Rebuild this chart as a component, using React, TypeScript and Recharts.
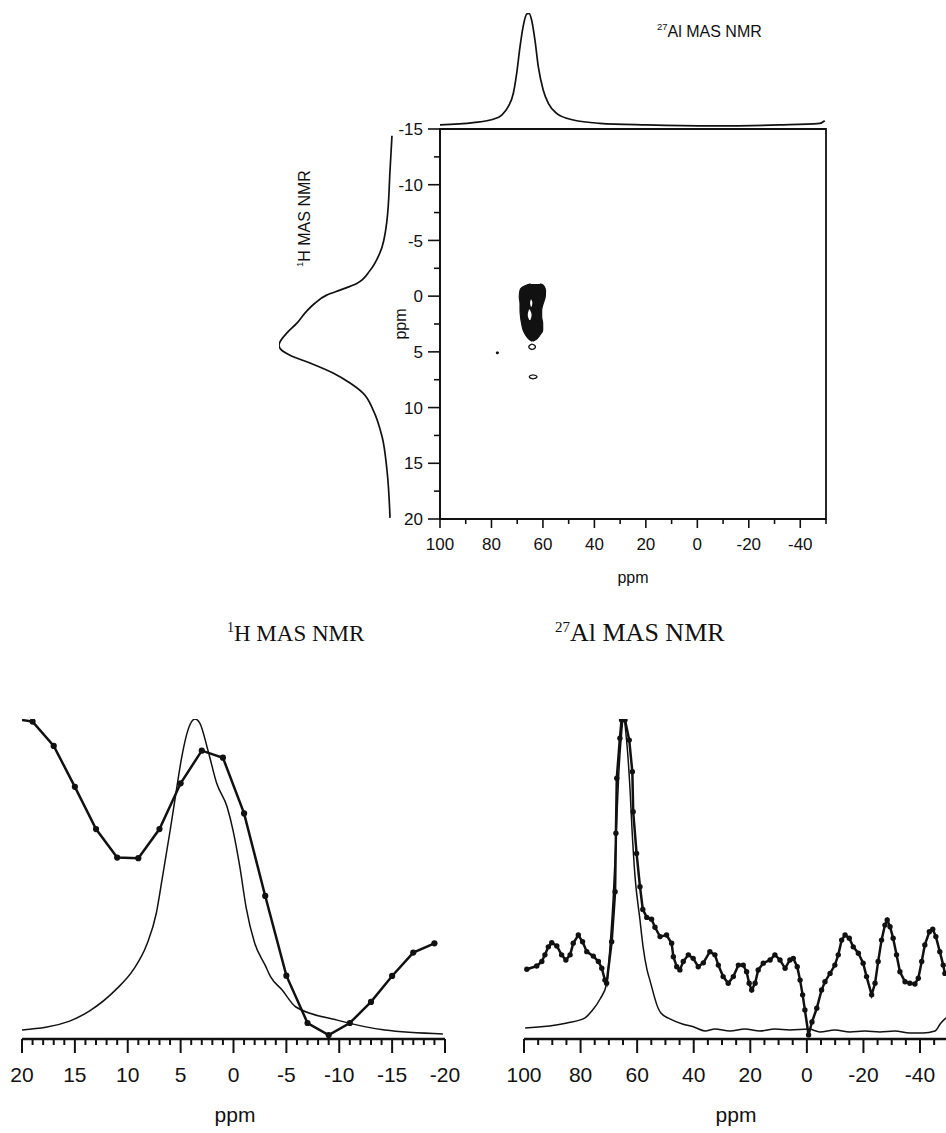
import React from 'react';
import { ComposedChart, LineChart, Line, Area, XAxis, YAxis, ReferenceArea } from 'recharts';

const SANS = "'Liberation Sans', Arial, Helvetica, sans-serif";
const SERIF = "'Liberation Serif', 'Times New Roman', Times, serif";
const INK = '#111';

// 27Al MAS projection drawn above the 2D map (ppm, relative intensity)
const alProjPpm = [100, 87.1, 79.3, 76.0, 73.5, 71.5, 70.2, 68.9, 67.7, 66.3, 65.4, 64.4, 63.1, 61.8, 59.9, 57.9, 54.7, 48.2, 37.9, 19.7, -6.1, -32.0, -47.6, -49.5];
const alProjInt = [1.8, 3.8, 6.8, 10.5, 17.8, 29.6, 47.1, 70.5, 88, 99.1, 99.7, 93.9, 76.3, 52.9, 32.5, 20.8, 12, 6.1, 3.2, 1.8, 0.9, 1.8, 3.2, 5.5];

// 1H MAS projection drawn left of the 2D map
const hProjPpm = [-14.4, -11.3, -6.8, -3.9, -2.3, -1.14, -0.54, -0.09, 0.66, 1.41, 2.45, 3.3, 4.1, 4.4, 4.8, 5.3, 6.0, 6.9, 7.8, 8.7, 10.2, 12.6, 15.6, 19.9];
const hProjInt = [0.9, 2.6, 5.3, 11.4, 20.2, 31.8, 46.5, 58.2, 68.8, 76.3, 84.5, 93, 99.1, 100, 98.2, 90.4, 72.8, 52.6, 37.7, 26.3, 17.5, 9.6, 5.3, 2.6];

// 2D correlation contours: 1H shift rows with the 27Al extent (left edge, right edge)
const blobH = [-1.1, -0.99, -0.54, 0.06, 0.66, 1.26, 1.86, 2.45, 3.05, 3.5, 3.89, 4.05];
const blobAlLeft = [64.8, 66.3, 68.9, 69.2, 68.9, 68.9, 68.7, 68.3, 67.7, 66.7, 65.3, 64.2];
const blobAlRight = [61.2, 59.9, 59.0, 59.1, 59.9, 60.5, 60.5, 60.1, 60.1, 61.2, 62.7, 63.9];
const gapAH = [0.3, 0.6, 0.96];
const gapAAlLeft = [64.7, 65.0, 64.7];
const gapAAlRight = [64.5, 64.1, 64.4];
const gapBH = [1.2, 1.7, 2.15];
const gapBAlLeft = [65.4, 65.9, 65.3];
const gapBAlRight = [65.1, 64.4, 64.9];
const ringAH = [4.31, 4.37, 4.45, 4.55, 4.65, 4.73, 4.79];
const ringAAlLeft = [64.2, 64.9, 65.3, 65.5, 65.3, 64.9, 64.2];
const ringAAlRight = [64.2, 63.5, 63.1, 62.9, 63.1, 63.5, 64.2];
const ringBH = [7.06, 7.12, 7.24, 7.36, 7.42];
const ringBAlLeft = [63.8, 64.9, 65.3, 64.9, 63.8];
const ringBAlRight = [63.8, 62.8, 62.3, 62.8, 63.8];
const specH = [4.99, 5.09, 5.19];
const specAlLeft = [77.7, 78.1, 77.7];
const specAlRight = [77.7, 77.3, 77.7];

// 1H MAS spectrum (thin) and 1H profile (dotted), bottom left
const hSpecPpm = [20, 15.5, 13.6, 11.1, 9.5, 8.2, 7.3, 6.7, 6.0, 5.5, 4.9, 4.3, 3.65, 3.2, 2.4, 1.6, 0.6, 0.05, -0.6, -1.2, -2.0, -3.0, -3.5, -4.6, -5.9, -9.8, -14.3, -19.8];
const hSpecInt = [2.8, 5.6, 8.8, 15.5, 21.5, 29.5, 39.3, 51, 65, 75.6, 88, 96.6, 100, 98.8, 90, 80, 72.5, 65.3, 53.8, 41, 30, 23, 19.5, 15.3, 10, 5.9, 2.8, 1.6];
const hProfPpm = [20, 19, 17, 15, 13, 11, 9, 7, 5, 3, 1, -1, -3, -5, -7, -9, -11, -13, -15, -17, -19];
const hProfInt = [99.7, 99.2, 91.6, 78.8, 65.6, 56.7, 56.5, 65.6, 79.9, 90.1, 87.9, 70.5, 44.7, 19.8, 5, 1.25, 5, 11.6, 19.7, 27, 29.9];

// 27Al MAS spectrum (thin) and 27Al profile (dotted), bottom right
const alSpecPpm = [99.6, 84.8, 78.4, 76.0, 73.1, 70.7, 69.6, 68.5, 67.5, 66.6, 65.7, 64.8, 63.6, 62.5, 61.8, 60.8, 59.0, 57.9, 56.5, 55.5, 52.6, 51.6, 48.4, 44.0, 39.9, 36.0, 32.5, 27.2, 21.9, 16.6, 11.3, 6.0, -0.7, -4.6, -9.9, -15.2, -20.5, -25.8, -31.1, -36.4, -41.0, -45.3, -47.4, -49.2];
const alSpecInt = [3.4, 5.0, 6.6, 8.8, 12.5, 17.5, 28.8, 43.4, 62, 81, 93.4, 100, 92, 77.8, 65.3, 51.3, 37.2, 28.8, 21.6, 18.4, 9.7, 8.1, 6.3, 4.7, 3.75, 2.5, 3.1, 2.5, 3.1, 2.5, 3.1, 2.8, 3.1, 2.2, 2.8, 2.2, 2.5, 2.2, 2.5, 1.9, 1.9, 2.5, 5, 6.6];
const alProfPpm = [
  99.0, 95.5, 93.7, 92.6, 91.4, 90.2, 88.4, 86.7, 85.2, 83.7,
  82.6, 80.8, 79.3, 77.8, 75.5, 73.7, 72.5, 71.4, 70.8, 69.0,
  67.8, 67.5, 67.2, 66.1, 65.5, 64.7, 64.3, 62.8, 61.7, 61.4,
  60.2, 59.0, 58.0, 56.6, 54.9, 53.7, 51.9, 49.6, 47.8, 47.2,
  46.0, 44.9, 43.7, 41.9, 40.2, 38.4, 36.6, 34.3, 32.5, 31.3,
  29.6, 27.8, 26.0, 24.2, 22.5, 21.3, 20.4, 19.5, 18.3, 17.2,
  15.4, 13.0, 11.3, 9.5, 7.7, 6.0, 4.8, 3.4, 2.4, 1.5,
  0.7, -0.6, -1.8, -3.5, -5.2, -6.4, -8.2, -9.9, -11.1, -12.3,
  -13.5, -15.0, -16.4, -18.2, -19.9, -21.1, -22.9, -24.1, -25.2, -26.4,
  -27.6, -28.4, -29.4, -30.5, -31.7, -32.9, -34.7, -36.4, -38.2, -39.4,
  -40.6, -41.7, -43.3, -44.5, -45.6, -47.0, -48.2, -48.8,
];
const alProfInt = [
  21.8, 22.8, 24.2, 26.3, 28.8, 30.1, 29.1, 26.3, 24.7, 26.3,
  29.9, 32.5, 30.4, 27.3, 25.9, 24.2, 22.1, 18.4, 17.4, 30.4,
  46.0, 64.3, 81.5, 94.0, 99.7, 100, 99.7, 93.4, 83.5, 71.0,
  58.0, 47.6, 40.5, 38.0, 37.4, 34.9, 32.0, 32.5, 29.9, 25.7,
  22.6, 21.6, 24.2, 26.3, 25.2, 22.6, 23.8, 27.3, 26.3, 23.1,
  19.5, 17.4, 19.5, 23.1, 23.1, 21.0, 17.4, 15.3, 17.4, 21.6,
  23.7, 24.7, 26.3, 24.7, 22.1, 24.7, 25.2, 22.6, 18.4, 13.8,
  9.1, 1.25, 5.3, 9.6, 15.3, 17.9, 20.5, 23.1, 26.3, 30.9,
  32.5, 31.5, 28.8, 26.8, 23.7, 19.5, 13.8, 17.4, 24.2, 30.9,
  35.6, 37.2, 35.1, 31.5, 26.3, 21.0, 17.9, 17.4, 17.2, 19.0,
  24.2, 29.4, 33.5, 34.3, 32.0, 27.3, 23.1, 20.5,
];

// axis ticks
const mapAlTicks = [100, 90, 80, 70, 60, 50, 40, 30, 20, 10, 0, -10, -20, -30, -40, -50];
const mapHTicks = [-15, -12.5, -10, -7.5, -5, -2.5, 0, 2.5, 5, 7.5, 10, 12.5, 15, 17.5, 20];
const hSpecTicks = [20, 19, 18, 17, 16, 15, 14, 13, 12, 11, 10, 9, 8, 7, 6, 5, 4, 3, 2, 1, 0, -1, -2, -3, -4, -5, -6, -7, -8, -9, -10, -11, -12, -13, -14, -15, -16, -17, -18, -19, -20];
const alSpecTicks = [100, 95, 90, 85, 80, 75, 70, 65, 60, 55, 50, 45, 40, 35, 30, 25, 20, 15, 10, 5, 0, -5, -10, -15, -20, -25, -30, -35, -40, -45, -50];

type TickOpts = { major: number; majorLen: number; minorLen: number; sw: number; fontSize: number; labelOffset: number };

const isMajorTick = (v: number, step: number) => Math.abs(v % step) < 1e-9;

const bottomTick = (o: TickOpts) => (props: any) => {
  const { x, y, payload, index } = props;
  const v = Number(payload.value);
  const major = isMajorTick(v, o.major);
  return (
    <g key={`bt-${index}`}>
      <line x1={x} x2={x} y1={y} y2={y + (major ? o.majorLen : o.minorLen)} stroke={INK} strokeWidth={o.sw} />
      {major && (
        <text x={x} y={y + o.labelOffset} textAnchor="middle" fontFamily={SANS} fontSize={o.fontSize} fill={INK}>
          {String(v)}
        </text>
      )}
    </g>
  );
};

const leftTick = (o: TickOpts) => (props: any) => {
  const { x, y, payload, index } = props;
  const v = Number(payload.value);
  const major = isMajorTick(v, o.major);
  return (
    <g key={`lt-${index}`}>
      <line x1={x - (major ? o.majorLen : o.minorLen)} x2={x} y1={y} y2={y} stroke={INK} strokeWidth={o.sw} />
      {major && (
        <text x={x - o.labelOffset} y={y} dy="0.36em" textAnchor="end" fontFamily={SANS} fontSize={o.fontSize} fill={INK}>
          {String(v)}
        </text>
      )}
    </g>
  );
};

const pairs = (xs: number[], ys: number[], kx: string, ky: string) =>
  xs.map((x, i) => ({ [kx]: x, [ky]: ys[i] } as Record<string, number>));

const merged = (...groups: Record<string, number>[][]) =>
  ([] as Record<string, number>[]).concat(...groups).sort((a, b) => b.ppm - a.ppm);

// filled round markers; `skipFrom` hides the marker on the leading edge point
const roundDot = (r: number, skipFrom = Infinity) => (p: any) => {
  const key = `dot-${p.index}`;
  if (p.cx == null || p.cy == null || p.value == null || p.payload?.ppm >= skipFrom) return <g key={key} />;
  return <circle key={key} cx={p.cx} cy={p.cy} r={r} fill={INK} stroke="none" />;
};

// ---------- 2D map geometry (shared by every map layer) ----------
const MAP_BOX = { left: 380, top: 100, width: 470, height: 500 };
const MAP_MARGIN_AXES = { top: 29, right: 24, left: 0, bottom: 51 };
const MAP_MARGIN_BARE = { top: 29, right: 24, left: 60, bottom: 81 };

type LayerProps = {
  h: number[];
  left: number[];
  right: number[];
  fill: string;
  stroke: string;
  strokeWidth: number;
  axes?: boolean;
};

function MapLayer({ h, left, right, fill, stroke, strokeWidth, axes }: LayerProps) {
  const data = h.map((v, i) => ({ h: v, al: [right[i], left[i]] }));
  return (
    <div style={{ position: 'absolute', left: MAP_BOX.left, top: MAP_BOX.top }}>
      <ComposedChart
        layout="vertical"
        width={MAP_BOX.width}
        height={MAP_BOX.height}
        data={data}
        margin={axes ? MAP_MARGIN_AXES : MAP_MARGIN_BARE}
      >
        <XAxis
          type="number"
          domain={[-50, 100]}
          reversed
          allowDataOverflow
          hide={!axes}
          height={30}
          ticks={mapAlTicks}
          interval={0}
          tickSize={0}
          tickMargin={0}
          tickLine={false}
          axisLine={{ stroke: INK, strokeWidth: 1.7 }}
          tick={bottomTick({ major: 20, majorLen: 9, minorLen: 5, sw: 1.6, fontSize: 17, labelOffset: 31 })}
        />
        <YAxis
          type="number"
          dataKey="h"
          domain={[-15, 20]}
          allowDataOverflow
          hide={!axes}
          width={60}
          ticks={mapHTicks}
          interval={0}
          tickSize={0}
          tickMargin={0}
          tickLine={false}
          axisLine={{ stroke: INK, strokeWidth: 1.7 }}
          tick={leftTick({ major: 5, majorLen: 12, minorLen: 6, sw: 1.6, fontSize: 17, labelOffset: 17 })}
        />
        {axes && (
          <ReferenceArea x1={100} x2={-50} y1={-15} y2={20} fill="none" stroke={INK} strokeWidth={1.8} />
        )}
        <Area
          type="monotone"
          dataKey="al"
          fill={fill}
          fillOpacity={1}
          stroke={stroke}
          strokeWidth={strokeWidth}
          isAnimationActive={false}
          dot={false}
          activeDot={false}
        />
      </ComposedChart>
    </div>
  );
}

function TopProjection() {
  const data = pairs(alProjPpm, alProjInt, 'ppm', 'int');
  return (
    <div style={{ position: 'absolute', left: 380, top: 0 }}>
      <LineChart width={470} height={140} data={data} margin={{ top: 13, right: 24, left: 60, bottom: 13 }}>
        <XAxis type="number" dataKey="ppm" domain={[-50, 100]} reversed allowDataOverflow hide />
        <YAxis type="number" domain={[0, 100]} allowDataOverflow hide />
        <Line type="monotone" dataKey="int" stroke={INK} strokeWidth={1.7} dot={false} activeDot={false} isAnimationActive={false} />
      </LineChart>
    </div>
  );
}

function LeftProjection() {
  const data = pairs(hProjPpm, hProjInt, 'ppm', 'int');
  return (
    <div style={{ position: 'absolute', left: 260, top: 100 }}>
      <LineChart layout="vertical" width={150} height={450} data={data} margin={{ top: 29, right: 17, left: 19, bottom: 31 }}>
        <XAxis type="number" domain={[0, 100]} reversed allowDataOverflow hide />
        <YAxis type="number" dataKey="ppm" domain={[-15, 20]} allowDataOverflow hide />
        <Line type="monotone" dataKey="int" stroke={INK} strokeWidth={1.7} dot={false} activeDot={false} isAnimationActive={false} />
      </LineChart>
    </div>
  );
}

const SPEC_MARGIN_Y = { top: 19, bottom: 34 };

function HSpectrum() {
  const data = merged(pairs(hSpecPpm, hSpecInt, 'ppm', 'spec'), pairs(hProfPpm, hProfInt, 'ppm', 'prof'));
  return (
    <div style={{ position: 'absolute', left: 0, top: 700 }}>
      <LineChart width={470} height={433} data={data} margin={{ ...SPEC_MARGIN_Y, left: 22, right: 25 }}>
        <XAxis
          type="number"
          dataKey="ppm"
          domain={[-20, 20]}
          reversed
          allowDataOverflow
          height={60}
          ticks={hSpecTicks}
          interval={0}
          tickSize={0}
          tickMargin={0}
          tickLine={false}
          axisLine={{ stroke: INK, strokeWidth: 2.6 }}
          tick={bottomTick({ major: 5, majorLen: 14, minorLen: 6, sw: 2, fontSize: 21, labelOffset: 43 })}
        />
        <YAxis type="number" domain={[0, 100]} allowDataOverflow hide />
        <Line type="monotone" dataKey="spec" connectNulls stroke={INK} strokeWidth={1.5} dot={false} activeDot={false} isAnimationActive={false} />
        <Line type="linear" dataKey="prof" connectNulls stroke={INK} strokeWidth={2.5} dot={roundDot(3.1, 20)} activeDot={false} isAnimationActive={false} />
      </LineChart>
    </div>
  );
}

function AlSpectrum() {
  const data = merged(pairs(alSpecPpm, alSpecInt, 'ppm', 'spec'), pairs(alProfPpm, alProfInt, 'ppm', 'prof'));
  return (
    <div style={{ position: 'absolute', left: 500, top: 700 }}>
      <LineChart width={470} height={433} data={data} margin={{ ...SPEC_MARGIN_Y, left: 24, right: 21.7 }}>
        <XAxis
          type="number"
          dataKey="ppm"
          domain={[-50, 100]}
          reversed
          allowDataOverflow
          height={60}
          ticks={alSpecTicks}
          interval={0}
          tickSize={0}
          tickMargin={0}
          tickLine={false}
          axisLine={{ stroke: INK, strokeWidth: 2.6 }}
          tick={bottomTick({ major: 20, majorLen: 14, minorLen: 6, sw: 2, fontSize: 21, labelOffset: 43 })}
        />
        <YAxis type="number" domain={[0, 100]} allowDataOverflow hide />
        <Line type="monotone" dataKey="spec" connectNulls stroke={INK} strokeWidth={1.5} dot={false} activeDot={false} isAnimationActive={false} />
        <Line type="linear" dataKey="prof" connectNulls stroke={INK} strokeWidth={2.5} dot={roundDot(2.7)} activeDot={false} isAnimationActive={false} />
      </LineChart>
    </div>
  );
}

function Captions() {
  return (
    <svg width={946} height={1133} style={{ position: 'absolute', left: 0, top: 0, pointerEvents: 'none' }}>
      <text x={657} y={37} fontFamily={SANS} fill={INK}>
        <tspan fontSize={9.5} dy={-7}>27</tspan>
        <tspan fontSize={16} dy={7}>Al MAS NMR</tspan>
      </text>
      <text transform="translate(310 267) rotate(-90)" fontFamily={SANS} fill={INK}>
        <tspan fontSize={9.5} dy={-7}>1</tspan>
        <tspan fontSize={16} dy={7}>H MAS NMR</tspan>
      </text>
      <text transform="translate(406 324) rotate(-90)" textAnchor="middle" fontFamily={SANS} fontSize={16} fill={INK}>ppm</text>
      <text x={633} y={583} textAnchor="middle" fontFamily={SANS} fontSize={16} fill={INK}>ppm</text>

      <text x={227} y={641} fontFamily={SERIF} fill={INK}>
        <tspan fontSize={14} dy={-9}>1</tspan>
        <tspan fontSize={23} dy={9}>H MAS NMR</tspan>
      </text>
      <text x={555} y={641} fontFamily={SERIF} fill={INK}>
        <tspan fontSize={15} dy={-9}>27</tspan>
        <tspan fontSize={26} dy={9}>Al MAS NMR</tspan>
      </text>

      <text x={235} y={1122} textAnchor="middle" fontFamily={SANS} fontSize={21} fill={INK}>ppm</text>
      <text x={736} y={1122} textAnchor="middle" fontFamily={SANS} fontSize={21} fill={INK}>ppm</text>
    </svg>
  );
}

export default function App() {
  return (
    <div style={{ position: 'absolute', left: 0, top: 0, width: 946, height: 1133, overflow: 'hidden', background: '#fff' }}>
      <TopProjection />
      <LeftProjection />
      <MapLayer h={blobH} left={blobAlLeft} right={blobAlRight} fill={INK} stroke={INK} strokeWidth={1.2} axes />
      <MapLayer h={gapAH} left={gapAAlLeft} right={gapAAlRight} fill="#fff" stroke="none" strokeWidth={0} />
      <MapLayer h={gapBH} left={gapBAlLeft} right={gapBAlRight} fill="#fff" stroke="none" strokeWidth={0} />
      <MapLayer h={ringAH} left={ringAAlLeft} right={ringAAlRight} fill="#fff" stroke={INK} strokeWidth={1.3} />
      <MapLayer h={ringBH} left={ringBAlLeft} right={ringBAlRight} fill="#fff" stroke={INK} strokeWidth={1.3} />
      <MapLayer h={specH} left={specAlLeft} right={specAlRight} fill={INK} stroke={INK} strokeWidth={1.2} />
      <HSpectrum />
      <AlSpectrum />
      <Captions />
    </div>
  );
}
